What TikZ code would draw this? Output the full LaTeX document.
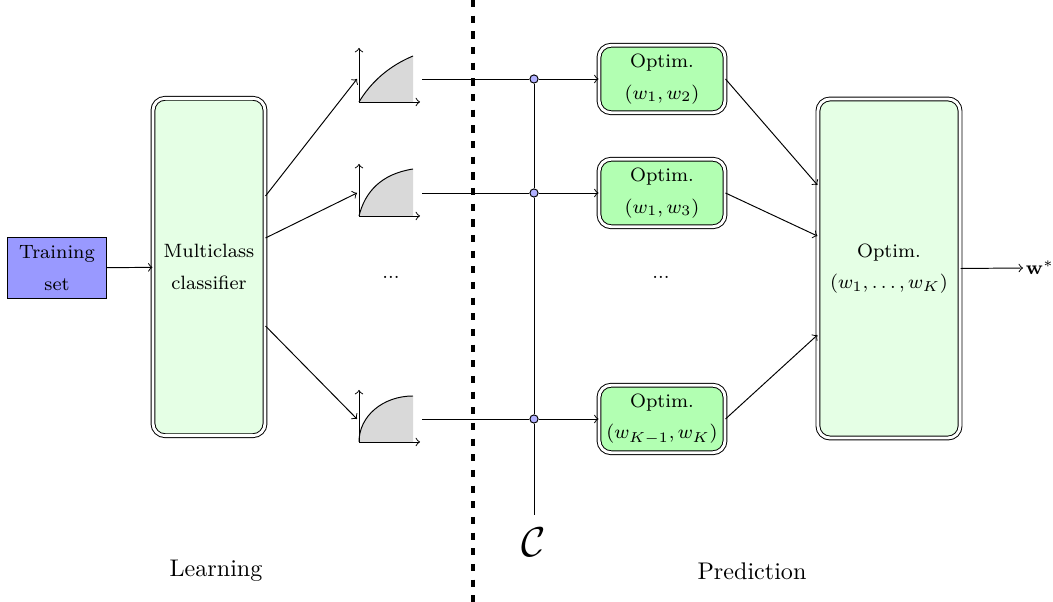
\documentclass[tikz,border=0pt]{standalone}
\usetikzlibrary{calc}
\begin{document}
\begin{tikzpicture}[x=0.415pt,y=-0.415pt,>=to,line width=0.4pt,
  dblbox/.style={draw,double,double distance=1.2pt,rounded corners=5pt,align=center,font=\footnotesize,inner sep=0pt},
  mcbox/.style={dblbox,fill=green!10,minimum width=46.5pt,minimum height=140pt},
  optbox/.style={dblbox,fill=green!30,minimum width=52.3pt,minimum height=28pt},
  bigbox/.style={dblbox,fill=green!10,minimum width=59pt,minimum height=140.7pt},
  trainbox/.style={draw,fill=blue!40,align=center,font=\footnotesize,inner sep=0pt,minimum width=40.7pt,minimum height=25.7pt},
  dot/.style={circle,draw,fill=blue!30,inner sep=0pt,minimum size=3.4pt},
  shade/.style={fill=gray!30},
  sep/.style={line width=2pt,dash pattern=on 3pt off 3.5pt}]
\useasboundingbox (0,0) rectangle (1053,602);

% separator
\draw[sep] (473,0) -- (473,602);

% nodes
\node[trainbox] (train) at (57,268) {Training\\[3.5pt]set};
\node[mcbox] (mc) at (209,267) {Multiclass\\[3.5pt]classifier};
\node[optbox] (o1) at (662,79) {Optim.\\[3.5pt]$(w_1,w_2)$};
\node[optbox] (o2) at (662,193) {Optim.\\[3.5pt]$(w_1,w_3)$};
\node[optbox] (o3) at (662,419) {Optim.\\[3.5pt]$(w_{K-1},w_K)$};
\node[bigbox] (big) at (889,268.5) {Optim.\\[3.5pt]$(w_1,\ldots,w_K)$};
\node[anchor=west,inner sep=1pt,font=\footnotesize] (ws) at (1023,268) {$\mathbf{w}^*$};
\node[font=\footnotesize] (dl) at (391,277) {...};
\node[font=\footnotesize] (dr) at (661,277) {...};
\node (learn) at (216,571) {Learning};
\node (pred) at (752,571) {Prediction};
\node[font=\LARGE,inner sep=0pt] (C) at (534,542) {$\mathcal{C}$};

% plots
\begin{scope}[shift={(359,102)}]
  \fill[shade] (0,0) .. controls (12,-20) and (30,-36) .. (54,-46) -- (54,0) -- cycle;
  \draw (0,0) .. controls (12,-20) and (30,-36) .. (54,-46);
  \draw[->] (0,0) -- (0,-54);
  \draw[->] (0,0) -- (61,0);
\end{scope}
\begin{scope}[shift={(359,216)}]
  \fill[shade] (0,0) .. controls (6,-24) and (22,-42) .. (54,-47) -- (54,0) -- cycle;
  \draw (0,0) .. controls (6,-24) and (22,-42) .. (54,-47);
  \draw[->] (0,0) -- (0,-52);
  \draw[->] (0,0) -- (61,0);
\end{scope}
\begin{scope}[shift={(359,442)}]
  \fill[shade] (0,0) .. controls (0,-26) and (24,-46) .. (54,-46) -- (54,0) -- cycle;
  \draw (0,0) .. controls (0,-26) and (24,-46) .. (54,-46);
  \draw[->] (0,0) -- (0,-52);
  \draw[->] (0,0) -- (61,0);
\end{scope}
\coordinate (pin1) at (357,79);
\coordinate (pin2) at (357,193);
\coordinate (pin3) at (357,419);
\coordinate (pout1) at (422,79);
\coordinate (pout2) at (422,193);
\coordinate (pout3) at (422,419);

% dots
\node[dot] (d1) at (534,79) {};
\node[dot] (d2) at (534,193) {};
\node[dot] (d3) at (534,419) {};

% connectors
\draw[->] (train) -- (mc);
\draw[->] ($(mc.east)+(0,-71)$) -- (pin1);
\draw[->] ($(mc.east)+(0,-29)$) -- (pin2);
\draw[->] ($(mc.east)+(0,59)$) -- (pin3);
\draw (pout1) -- (d1);
\draw (pout2) -- (d2);
\draw (pout3) -- (d3);
\draw[->] (d1) -- (o1.west);
\draw[->] (d2) -- (o2.west);
\draw[->] (d3) -- (o3.west);
\draw (d1) -- (d2);
\draw (d2) -- (d3);
\draw (d3) -- ($(C.north)+(0,-12)$);
\draw[->] (o1.east) -- ($(big.west)+(0,-83.5)$);
\draw[->] (o2.east) -- ($(big.west)+(0,-32.5)$);
\draw[->] (o3.east) -- ($(big.west)+(0,66.5)$);
\draw[->] (big.east) -- (ws.west);
\end{tikzpicture}
\end{document}
